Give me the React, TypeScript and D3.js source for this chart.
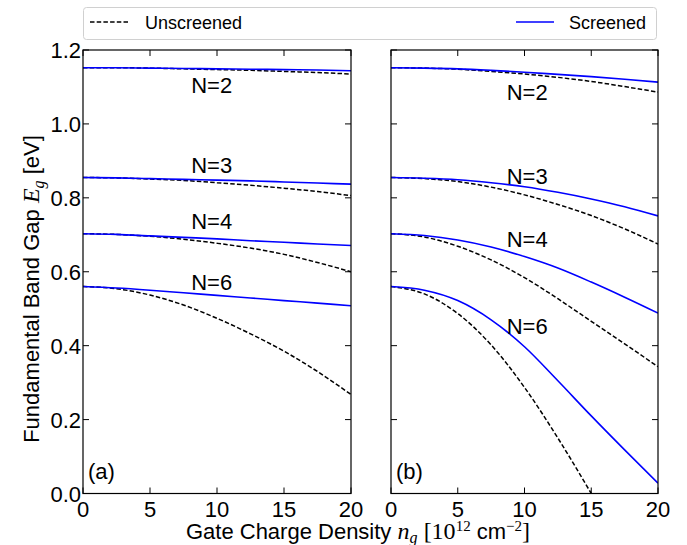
import React from 'react';
import * as d3 from 'd3';

// ---- data ----
const densities = [0, 2.5, 5, 7.5, 10, 12.5, 15, 17.5, 20];
const densitiesShort = [0, 2.5, 5, 7.5, 10, 12.5, 15];
const xTicks = [0, 5, 10, 15, 20];
const yTicks = [0, 0.2, 0.4, 0.6, 0.8, 1.0, 1.2];
const layerNames = ['N=2', 'N=3', 'N=4', 'N=6'];

// panel (a)
const aN2Unscreened = [1.152, 1.152, 1.151, 1.149, 1.147, 1.145, 1.142, 1.139, 1.135];
const aN2Screened = [1.152, 1.152, 1.151, 1.15, 1.149, 1.148, 1.147, 1.146, 1.144];
const aN3Unscreened = [0.855, 0.854, 0.851, 0.847, 0.841, 0.834, 0.826, 0.817, 0.806];
const aN3Screened = [0.855, 0.854, 0.852, 0.85, 0.848, 0.846, 0.843, 0.84, 0.837];
const aN4Unscreened = [0.703, 0.701, 0.696, 0.688, 0.677, 0.664, 0.647, 0.625, 0.6];
const aN4Screened = [0.703, 0.701, 0.697, 0.693, 0.689, 0.684, 0.68, 0.675, 0.671];
const aN6Unscreened = [0.56, 0.554, 0.537, 0.51, 0.474, 0.432, 0.385, 0.33, 0.268];
const aN6Screened = [0.56, 0.556, 0.55, 0.543, 0.536, 0.529, 0.522, 0.515, 0.508];

// panel (b)
const bN2Unscreened = [1.152, 1.151, 1.148, 1.142, 1.135, 1.126, 1.115, 1.101, 1.086];
const bN2Screened = [1.152, 1.151, 1.149, 1.145, 1.14, 1.134, 1.128, 1.121, 1.113];
const bN3Unscreened = [0.855, 0.852, 0.844, 0.829, 0.808, 0.782, 0.752, 0.716, 0.675];
const bN3Screened = [0.855, 0.853, 0.849, 0.841, 0.83, 0.815, 0.797, 0.776, 0.751];
const bN4Unscreened = [0.703, 0.694, 0.669, 0.632, 0.584, 0.527, 0.466, 0.405, 0.343];
const bN4Screened = [0.703, 0.698, 0.686, 0.667, 0.641, 0.61, 0.572, 0.531, 0.488];
const bN6Unscreened = [0.56, 0.54, 0.487, 0.402, 0.287, 0.15, 0.0];
const bN6Screened = [0.56, 0.55, 0.522, 0.47, 0.397, 0.305, 0.21, 0.118, 0.028];

// label anchor positions (density, energy)
const aLabelX = [9.6, 9.6, 9.6, 9.6];
const aLabelY = [1.084, 0.867, 0.715, 0.55];
const bLabelX = [10.2, 10.2, 10.2, 10.2];
const bLabelY = [1.065, 0.838, 0.667, 0.432];

const SANS = '"Liberation Sans", Arial, Helvetica, sans-serif';
const SERIF = '"Liberation Serif", "DejaVu Serif", serif';

type Series = { x: number[]; un: number[]; sc: number[] };

const panelA: Series[] = [
  { x: densities, un: aN2Unscreened, sc: aN2Screened },
  { x: densities, un: aN3Unscreened, sc: aN3Screened },
  { x: densities, un: aN4Unscreened, sc: aN4Screened },
  { x: densities, un: aN6Unscreened, sc: aN6Screened },
];
const panelB: Series[] = [
  { x: densities, un: bN2Unscreened, sc: bN2Screened },
  { x: densities, un: bN3Unscreened, sc: bN3Screened },
  { x: densities, un: bN4Unscreened, sc: bN4Screened },
  { x: densitiesShort, un: bN6Unscreened, sc: bN6Screened },
];

const TOP = 50;
const BOTTOM = 493.5;
const TICK = 6;
const FS = 22;

function Panel({ x0, x1, series, lx, ly, tag, showY, id }: {
  x0: number; x1: number; series: Series[]; lx: number[]; ly: number[]; tag: string; showY: boolean; id: string;
}) {
  const xs = d3.scaleLinear().domain([0, 20]).range([x0, x1]);
  const ys = d3.scaleLinear().domain([0, 1.2]).range([BOTTOM, TOP]);
  const mk = (xv: number[]) =>
    d3.line<number>().x((_, i) => xs(xv[i])).y((d) => ys(d)).curve(d3.curveMonotoneX);
  return (
    <g>
      <defs>
        <clipPath id={id}>
          <rect x={x0} y={TOP} width={x1 - x0} height={BOTTOM - TOP} />
        </clipPath>
      </defs>
      <g clipPath={`url(#${id})`}>
        {series.map((s, k) => (
          <g key={k}>
            <path d={mk(s.x)(s.un) || ''} fill="none" stroke="#000" strokeWidth={1.5} strokeDasharray="4.5,2.2" />
            <path d={mk(densities)(s.sc) || ''} fill="none" stroke="#0000ff" strokeWidth={1.6} />
          </g>
        ))}
      </g>
      {layerNames.map((n, k) => (
        <text key={n} x={xs(lx[k])} y={ys(ly[k])} textAnchor="middle" fontFamily={SANS} fontSize={FS} fill="#000">{n}</text>
      ))}
      {xTicks.map((t) => (
        <g key={'x' + t}>
          <line x1={xs(t)} x2={xs(t)} y1={BOTTOM} y2={BOTTOM - TICK} stroke="#000" strokeWidth={1} />
          <line x1={xs(t)} x2={xs(t)} y1={TOP} y2={TOP + TICK} stroke="#000" strokeWidth={1} />
          <text x={xs(t)} y={BOTTOM + 23} textAnchor="middle" fontFamily={SANS} fontSize={FS} fill="#000">{t}</text>
        </g>
      ))}
      {yTicks.map((t) => (
        <g key={'y' + t}>
          <line x1={x0} x2={x0 + TICK} y1={ys(t)} y2={ys(t)} stroke="#000" strokeWidth={1} />
          <line x1={x1} x2={x1 - TICK} y1={ys(t)} y2={ys(t)} stroke="#000" strokeWidth={1} />
          {showY && (
            <text x={x0 - 2} y={ys(t) + 8} textAnchor="end" fontFamily={SANS} fontSize={FS} fill="#000">{t.toFixed(1)}</text>
          )}
        </g>
      ))}
      <rect x={x0} y={TOP} width={x1 - x0} height={BOTTOM - TOP} fill="none" stroke="#000" strokeWidth={1.2} />
      <text x={x0 + 5} y={BOTTOM - 15} fontFamily={SANS} fontSize={FS} fill="#000">{tag}</text>
    </g>
  );
}

export default function App() {
  return (
    <svg width={687} height={545} style={{ position: 'absolute', left: 0, top: 0, background: '#fff' }}>
      <rect x={0} y={0} width={687} height={545} fill="#fff" />
      {/* legend */}
      <rect x={83.5} y={7.5} width={573} height={32} rx={3} fill="#fff" stroke="#d0d0d0" strokeWidth={1} />
      <line x1={90} x2={128} y1={22} y2={22} stroke="#000" strokeWidth={1.5} strokeDasharray="4.5,2.2" />
      <text x={145} y={28.5} fontFamily={SANS} fontSize={18} fill="#000">Unscreened</text>
      <line x1={516} x2={554} y1={22} y2={22} stroke="#0000ff" strokeWidth={1.6} />
      <text x={569} y={28.5} fontFamily={SANS} fontSize={18} fill="#000">Screened</text>

      <Panel x0={83} x1={351} series={panelA} lx={aLabelX} ly={aLabelY} tag="(a)" showY={true} id="clipA" />
      <Panel x0={391} x1={658} series={panelB} lx={bLabelX} ly={bLabelY} tag="(b)" showY={false} id="clipB" />

      {/* x label */}
      <text x={358} y={539} textAnchor="middle" fontSize={FS} fill="#000" fontFamily={SANS}>
        Gate Charge Density{' '}
        <tspan fontFamily={SERIF} fontStyle="italic" fontSize={24}>n</tspan>
        <tspan fontFamily={SERIF} fontStyle="italic" fontSize={16} dy={4}>g</tspan>
        <tspan dy={-4}> </tspan>
        <tspan fontFamily={SERIF} fontSize={24}>[10</tspan>
        <tspan fontFamily={SERIF} fontSize={15} dy={-8}>12</tspan>
        <tspan dy={8}> cm</tspan>
        <tspan fontFamily={SERIF} fontSize={15} dy={-8}>−2</tspan>
        <tspan fontFamily={SERIF} fontSize={24} dy={8}>]</tspan>
      </text>

      {/* y label */}
      <text transform="translate(39,289) rotate(-90)" textAnchor="middle" fontSize={FS} fill="#000" fontFamily={SANS}>
        Fundamental Band Gap{' '}
        <tspan fontFamily={SERIF} fontStyle="italic" fontSize={24}>E</tspan>
        <tspan fontFamily={SERIF} fontStyle="italic" fontSize={16} dy={5}>g</tspan>
        <tspan dy={-5}> [eV]</tspan>
      </text>
    </svg>
  );
}
